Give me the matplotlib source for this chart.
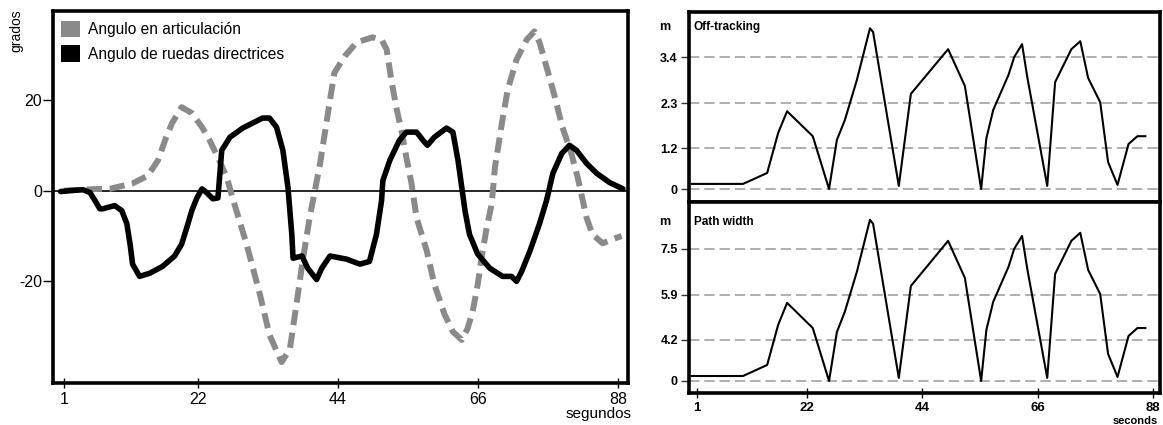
import numpy as np
import matplotlib
matplotlib.use("Agg")
import matplotlib.pyplot as plt
from matplotlib.patches import Patch

plt.rcParams["font.family"] = ["Liberation Sans", "DejaVu Sans"]
plt.rcParams["lines.scale_dashes"] = False

# ---------------- data ----------------
# articulation angle (degrees) vs time (s)
ART_T = [1, 6.7, 8.2, 11.8, 14.2, 15.8, 16.9, 18.0, 19.5, 21.1, 22.7, 23.9, 25.2, 26.6, 27.5,
         29.7, 31.8, 33.3, 35.2, 36.5, 37.6, 38.5, 39.6, 41.2, 42.8, 43.5, 45.1, 47.0, 49.5, 50.9,
         51.7, 52.5, 53.3, 54.1, 54.8, 55.6, 56.4, 58.0, 59.2, 60.8, 62.1, 63.5, 64.4, 65.2, 66.0,
         66.6, 67.4, 68.2, 68.7, 69.8, 70.7, 72.1, 73.7, 74.9, 75.7, 76.8, 78.1, 79.3, 80.7, 81.7,
         82.5, 83.1, 84.0, 85.6, 87.2, 88.6]
ART_DEG = [0, 0.4, 0.4, 1.6, 3.3, 6.7, 11.1, 14.9, 18.4, 17.1, 14.0, 11.1, 7.3, 2.9, -1.6,
           -11.8, -22.9, -31.8, -37.8, -34.9, -24.4, -15.6, -6.0, 5.6, 20, 26, 29.6, 32.7, 33.8, 33.3,
           31.1, 23.8, 17.8, 12.7, 7.3, 1.6, -6.0, -13.3, -20.7, -27.3, -31.1, -32.9, -30.4, -26.7, -20.7,
           -14.9, -8.2, -2.9, 5.1, 14.9, 22.2, 28.9, 33.3, 35.1, 32.7, 27.3, 20.7, 14.0, 8.2, 2.9,
           -2.2, -6.0, -9.6, -11.6, -10.7, -10.0]

# steering wheel angle (degrees) vs time (s)
STEER_T = [0.5, 1.9, 4.0, 5.1, 5.9, 6.65, 7.1, 9.0, 10.1, 10.9, 11.4, 11.8, 12.9, 14.5, 16.5,
           18.4, 19.5, 20.3, 21.1, 21.9, 22.7, 23.4, 24.4, 25.2, 25.8, 27.1, 29.1, 32.2, 33.3, 34.4,
           35.4, 36.2, 36.8, 37.0, 38.4, 39.3, 40.7, 41.5, 42.8, 45.4, 47.5, 49.0, 50.1, 50.9, 51.1,
           52.2, 53.7, 54.8, 56.4, 57.4, 58.1, 59.2, 61.1, 62.1, 62.9, 63.5, 64.0, 64.7, 66.0, 67.9,
           69.9, 71.3, 72.1, 72.9, 74.2, 75.7, 76.8, 77.8, 79.2, 80.4, 81.5, 83.1, 84.7, 86.7, 88.8]
STEER_DEG = [-0.2, 0, 0.2, -0.4, -2.2, -4.0, -4.0, -3.3, -4.4, -7.3, -11.8, -16.2, -18.9, -18.2, -16.7,
             -14.4, -11.8, -8.2, -4.4, -1.6, 0.4, -0.4, -1.8, -1.6, 8.9, 11.8, 13.8, 16.0, 16.0, 14.0,
             8.9, 0.7, -9.6, -14.9, -14.4, -17.1, -19.6, -17.1, -14.4, -15.1, -16.2, -15.6, -9.6, -2.2, 2.2,
             6.7, 11.1, 12.9, 12.9, 11.1, 10.0, 11.8, 13.8, 12.9, 6.7, 0.7, -4.4, -9.6, -14.0, -17.1,
             -18.9, -18.9, -20, -17.8, -13.3, -7.3, -2.2, 3.8, 8.2, 10.0, 8.9, 6.0, 3.8, 1.8, 0.4]

# off-tracking and path width (m) vs time (s)
SWEPT_T = [0, 9.8, 14.4, 16.5, 18.2, 23.1, 26.2, 27.7, 29.2, 31.5, 34.0, 34.6, 39.5, 41.8, 48.9,
           52.1, 55.2, 56.2, 57.5, 60.4, 61.5, 63.0, 64.0, 67.8, 69.3, 72.4, 74.1, 75.6, 77.9, 79.4,
           81.2, 83.3, 85.0, 86.5]
OFFTRACK_M = [0.15, 0.15, 0.47, 1.57, 2.10, 1.49, 0.0, 1.40, 1.88, 2.85, 4.09, 4.00, 0.09, 2.52, 3.59,
              2.71, 0.0, 1.44, 2.13, 2.97, 3.40, 3.71, 2.92, 0.09, 2.80, 3.59, 3.78, 2.90, 2.32, 0.79,
              0.12, 1.30, 1.49, 1.49]
PATHWIDTH_M = [0.51, 0.51, 1.64, 4.77, 5.60, 4.65, 0.0, 4.50, 5.26, 6.70, 8.51, 8.37, 0.31, 6.21, 7.78,
               6.49, 0.0, 4.58, 5.64, 6.87, 7.50, 7.95, 6.80, 0.31, 6.63, 7.78, 8.06, 6.77, 5.93, 2.77,
               0.41, 4.35, 4.65, 4.65]

X_TICKS = [1, 22, 44, 66, 88]
ANGLE_TICKS = [-20, 0, 20]
OFFTRACK_TICKS = [0, 1.2, 2.3, 3.4]
PATHWIDTH_TICKS = [0, 4.2, 5.9, 7.5]

# grid rows on the right-hand panels sit at these relative heights
GRID_ROWS = [0, 41, 86, 132]


def piecewise_scale(values, rows):
    values = np.asarray(values, float)
    rows = np.asarray(rows, float)
    s_lo = (rows[1] - rows[0]) / (values[1] - values[0])
    s_hi = (rows[-1] - rows[-2]) / (values[-1] - values[-2])

    def fwd(v):
        v = np.asarray(v, float)
        out = np.interp(v, values, rows)
        out = np.where(v < values[0], rows[0] + (v - values[0]) * s_lo, out)
        out = np.where(v > values[-1], rows[-1] + (v - values[-1]) * s_hi, out)
        return out

    def inv(r):
        r = np.asarray(r, float)
        out = np.interp(r, rows, values)
        out = np.where(r < rows[0], values[0] + (r - rows[0]) / s_lo, out)
        out = np.where(r > rows[-1], values[-1] + (r - rows[-1]) / s_hi, out)
        return out

    return fwd, inv


W, H = 1163, 425
fig = plt.figure(figsize=(W / 100, H / 100), dpi=100)


def rect(x0, y0, x1, y1):
    return [x0 / W, 1 - y1 / H, (x1 - x0) / W, (y1 - y0) / H]


GRAY = "#8a8a8a"

# ---------------- left panel: angles ----------------
ax = fig.add_axes(rect(53, 11, 628, 383))
ax.axhline(0, color="black", lw=1.2, zorder=1)
ax.plot(ART_T, ART_DEG, color=GRAY, lw=4.3, dashes=(11, 5.5), solid_joinstyle="round",
        dash_capstyle="butt", zorder=2)
ax.plot(STEER_T, STEER_DEG, color="black", lw=4.0, solid_joinstyle="round",
        solid_capstyle="round", zorder=3)
ax.set_xlim(-0.7, 89.6)
ax.set_ylim(-42.4, 39.6)
for s in ax.spines.values():
    s.set_linewidth(2.6)
ax.set_xticks(X_TICKS)
ax.set_yticks(ANGLE_TICKS)
ax.set_yticklabels([str(v) for v in ANGLE_TICKS])
ax.tick_params(axis="y", direction="out", length=7, width=1.0, pad=1, labelsize=11.5)
ax.tick_params(axis="x", direction="inout", length=7, width=1.0, pad=3, labelsize=11.5)
ax.legend(handles=[Patch(facecolor=GRAY, edgecolor="none", label="Angulo en articulación"),
                   Patch(facecolor="black", edgecolor="none", label="Angulo de ruedas directrices")],
          loc="upper left", bbox_to_anchor=(8 / 575, 1 - 10 / 372), borderaxespad=0,
          frameon=False, fontsize=11.2, handlelength=1.25, handleheight=1.25,
          handletextpad=0.5, labelspacing=0.5, borderpad=0)
fig.text(16 / W, 1 - 31 / H, "grados", rotation=90, ha="center", va="center", fontsize=10)
fig.text(632 / W, 1 - 414 / H, "segundos", ha="right", va="center", fontsize=11)

# ---------------- right panels: off-tracking and path width ----------------
panels = [
    (rect(689, 12, 1160, 202), OFFTRACK_M, OFFTRACK_TICKS, "Off-tracking", 27, (-0.38, 4.48)),
    (rect(689, 202, 1160, 393), PATHWIDTH_M, PATHWIDTH_TICKS, "Path width", 222, (-1.23, 9.13)),
]
for i, (pos, vals, ticks, title, ty, ylim) in enumerate(panels):
    a = fig.add_axes(pos)
    fwd, inv = piecewise_scale(ticks, GRID_ROWS)
    a.set_yscale("function", functions=(fwd, inv))
    a.set_ylim(*ylim)
    a.set_xlim(-0.5, 89.3)
    for v in ticks:
        a.axhline(v, color="#9a9a9a", lw=1.1, dashes=(7.5, 3.5), zorder=1)
    a.plot(SWEPT_T, vals, color="black", lw=1.5, zorder=3)
    for s in a.spines.values():
        s.set_linewidth(2.6)
    a.set_yticks(ticks)
    a.set_yticklabels([f"{v:g}" for v in ticks], fontweight="bold")
    a.yaxis.set_minor_locator(matplotlib.ticker.NullLocator())
    a.tick_params(axis="y", which="both", direction="out", length=6, width=1.0,
                  color="#333333", pad=2, labelsize=9)
    a.set_xticks(X_TICKS)
    if i == 0:
        a.tick_params(axis="x", bottom=False, labelbottom=False)
    else:
        a.set_xticklabels([str(v) for v in X_TICKS], fontweight="bold")
        a.tick_params(axis="x", direction="inout", length=7, width=1.0, pad=3, labelsize=9.5)
    fig.text(665 / W, 1 - ty / H, "m", ha="center", va="center", fontsize=9, fontweight="bold")
    fig.text(694 / W, 1 - ty / H, title, ha="left", va="center", fontsize=8.5, fontweight="bold")

fig.text(1135 / W, 1 - 420.5 / H, "seconds", ha="center", va="center", fontsize=8, fontweight="bold")

fig.savefig("out.png", dpi=100)
